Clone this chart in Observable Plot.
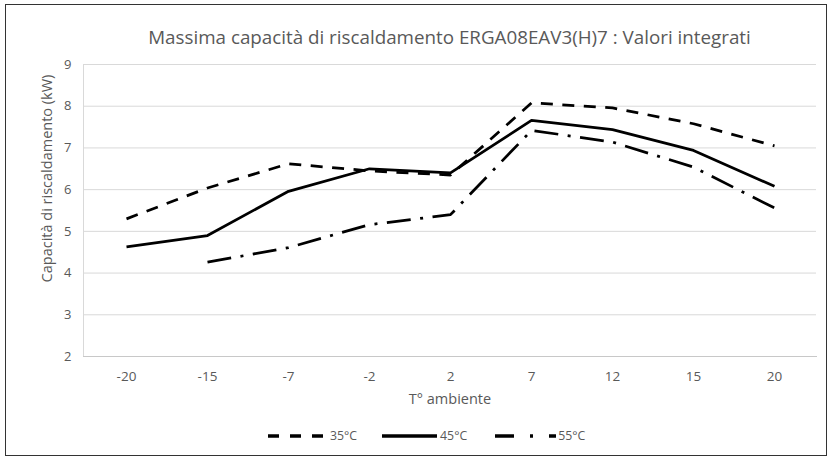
<!DOCTYPE html>
<html>
<head>
<meta charset="utf-8">
<script src="https://cdn.jsdelivr.net/npm/d3@7"></script>
<script src="https://cdn.jsdelivr.net/npm/@observablehq/plot@0.6"></script>
<style>
  body { margin: 0; background: #fff; }
  #chart { position: relative; width: 828px; height: 457px; overflow: hidden; font-family: 'Open Sans', sans-serif; color: #595959; }
  #border { position: absolute; left: 5px; top: 4px; width: 820px; height: 450px; border: 1px solid #333; }
  #title { position: absolute; left: 83px; width: 733px; top: 24px; text-align: center; font-size: 18.8px; line-height: 26px; color: #595959; white-space: nowrap; }
  #plot { position: absolute; left: 0; top: 0; }
  #legend { position: absolute; left: 268px; top: 428px; display: flex; align-items: center; font-size: 12.3px; line-height: 16px; color: #595959; }
  .item { display: flex; align-items: center; }
</style>
</head>
<body>
<div id="chart">
  <div id="border"></div>
  <div id="title"></div>
  <div id="plot"></div>
  <div id="legend"></div>
</div>
<script>
const titleText = "Massima capacità di riscaldamento ERGA08EAV3(H)7 : Valori integrati";
const xLabel = "T° ambiente";
const yLabel = "Capacità di riscaldamento (kW)";
const categories = ["-20", "-15", "-7", "-2", "2", "7", "12", "15", "20"];
const yTicks = [2, 3, 4, 5, 6, 7, 8, 9];
const seriesNames = ["35°C", "45°C", "55°C"];
const s35 = [5.30, 6.04, 6.62, 6.45, 6.35, 8.08, 7.96, 7.58, 7.05];
const s45 = [4.63, 4.90, 5.96, 6.50, 6.40, 7.66, 7.44, 6.94, 6.08];
const s55 = [null, 4.26, 4.61, 5.16, 5.40, 7.42, 7.14, 6.54, 5.56];
const dashes = ["12,9.5", null, "24,9.5,3,9.5"];
const legendDashes = ["11,11", null, "19,16,3,16"];

const seriesValues = [s35, s45, s55];
const tables = seriesValues.map((vals, k) =>
  categories.map((c, i) => ({T: c, v: vals[i], series: seriesNames[k]})).filter(d => d.v != null)
);

document.getElementById("title").textContent = titleText;

const plot = Plot.plot({
  width: 828,
  height: 410,
  marginTop: 64,
  marginBottom: 54,
  marginLeft: 83,
  marginRight: 12,
  style: {fontFamily: "'Open Sans', sans-serif", fontSize: "12px", color: "#595959", background: "transparent"},
  x: {type: "point", domain: categories, padding: 0.5},
  y: {domain: [2, 9], ticks: yTicks},
  marks: [
    Plot.gridY(yTicks, {stroke: "#d9d9d9", strokeOpacity: 1, strokeWidth: 1}),
    Plot.frame({anchor: "left", stroke: "#d9d9d9", strokeOpacity: 1}),
    Plot.frame({anchor: "bottom", stroke: "#c8c8c8", strokeOpacity: 1}),
    Plot.axisY(yTicks, {tickSize: 0, tickPadding: 12, label: null, fontSize: 13, tickFormat: d => String(d)}),
    Plot.text([yLabel], {frameAnchor: "left", rotate: -90, dx: -36, dy: -32, textAnchor: "middle", lineAnchor: "middle", fontSize: 14.5, fill: "#595959"}),
    Plot.axisX({tickSize: 0, tickPadding: 15, label: null, fontSize: 13.5}),
    Plot.axisX({tickSize: 0, ticks: [], label: xLabel, labelAnchor: "center", labelOffset: 47, fontSize: 14.5}),
    ...tables.map((t, k) => Plot.lineY(t, {
      x: "T", y: "v", stroke: "black", strokeWidth: 2.75,
      strokeDasharray: dashes[k] || undefined, strokeLinejoin: "round", strokeLinecap: "butt"
    }))
  ]
});
document.getElementById("plot").appendChild(plot);

// legend
const swatchW = [57, 55, 61];
const swatchGap = [5, 3, 2];
const itemGap = [25, 28, 0];
const legend = document.getElementById("legend");
seriesNames.forEach((name, k) => {
  const item = document.createElement("div");
  item.className = "item";
  item.style.marginRight = itemGap[k] + "px";
  const ns = "http://www.w3.org/2000/svg";
  const svg = document.createElementNS(ns, "svg");
  svg.setAttribute("width", swatchW[k]);
  svg.setAttribute("height", 8);
  svg.style.marginRight = swatchGap[k] + "px";
  const line = document.createElementNS(ns, "line");
  line.setAttribute("x1", 0); line.setAttribute("x2", swatchW[k]);
  line.setAttribute("y1", 4); line.setAttribute("y2", 4);
  line.setAttribute("stroke", "black");
  line.setAttribute("stroke-width", 3.3);
  if (legendDashes[k]) line.setAttribute("stroke-dasharray", legendDashes[k]);
  svg.appendChild(line);
  const span = document.createElement("span");
  span.textContent = name;
  item.appendChild(svg);
  item.appendChild(span);
  legend.appendChild(item);
});
</script>
</body>
</html>
